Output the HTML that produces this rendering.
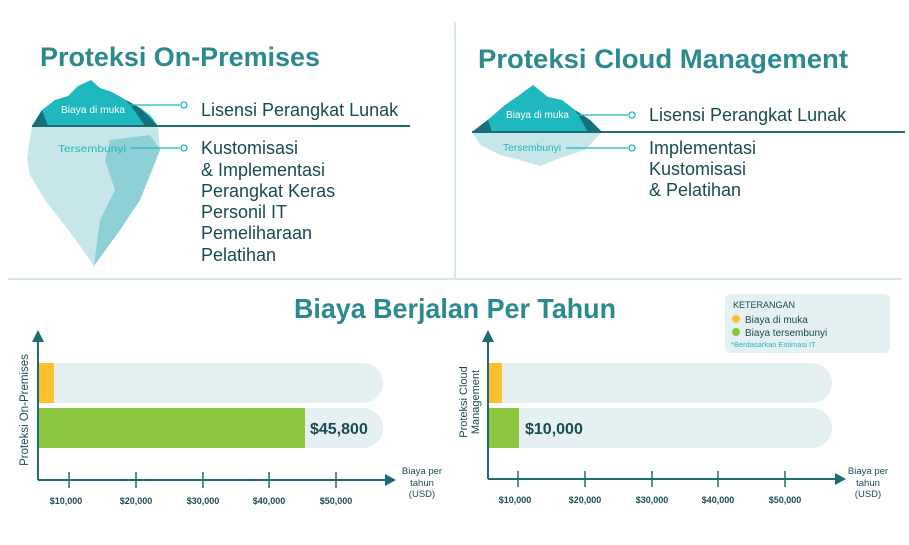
<!DOCTYPE html>
<html><head><meta charset="utf-8"><style>
html,body{margin:0;padding:0;background:#fff;}
svg{display:block;font-family:"Liberation Sans",sans-serif;}
</style></head><body>
<svg width="909" height="545" viewBox="0 0 909 545" xmlns="http://www.w3.org/2000/svg">
<line x1="455" y1="22" x2="455" y2="278" stroke="#c9dfe2" stroke-width="1.5"/>
<line x1="8" y1="279" x2="902" y2="279" stroke="#c9dfe2" stroke-width="1.5"/>

<text x="40" y="66" font-size="27" font-weight="bold" fill="#2a8a8e" textLength="280" lengthAdjust="spacingAndGlyphs">Proteksi On-Premises</text>
<text x="478" y="68" font-size="27" font-weight="bold" fill="#2a8a8e" textLength="370" lengthAdjust="spacingAndGlyphs">Proteksi Cloud Management</text>
<text x="294" y="318" font-size="28" font-weight="bold" fill="#2a8a8e" textLength="322" lengthAdjust="spacingAndGlyphs">Biaya Berjalan Per Tahun</text>

<!-- left iceberg -->
<polygon points="32,126 27,158 30,175 45,200 70,232 94,266 120,230 140,200 152,170 160,150 158,126" fill="#c6e6ea"/>
<polygon points="110,140 150,135 160,150 152,170 140,200 120,230 94,266 100,220 115,190 105,160" fill="#8fd0d6"/>
<polygon points="32,126 42,110 55,100 68,96 78,86 91,80 100,88 112,92 126,100 140,108 150,115 158,126" fill="#1fb8bf"/>
<polygon points="32,126 42,110 48,126" fill="#14707a"/>
<polygon points="126,100 140,108 158,126 145,126 134,110" fill="#14707a"/>
<line x1="32" y1="126" x2="410" y2="126" stroke="#1f6b73" stroke-width="2"/>
<text x="61" y="113" font-size="10.5" fill="#fff" textLength="64" lengthAdjust="spacingAndGlyphs">Biaya di muka</text>
<line x1="130" y1="105" x2="180" y2="105" stroke="#1fb8bf" stroke-width="1.3"/>
<circle cx="184" cy="105" r="3" fill="#fff" stroke="#1fb8bf" stroke-width="1.3"/>
<text x="58" y="152" font-size="10.5" fill="#1fb8bf" textLength="68" lengthAdjust="spacingAndGlyphs">Tersembunyi</text>
<line x1="130" y1="148" x2="180" y2="148" stroke="#1fb8bf" stroke-width="1.3"/>
<circle cx="184" cy="148" r="3" fill="#fff" stroke="#1fb8bf" stroke-width="1.3"/>
<g font-size="18" fill="#1a4a52">
<text x="201" y="116">Lisensi Perangkat Lunak</text>
<text x="201" y="154">Kustomisasi</text>
<text x="201" y="176">&amp; Implementasi</text>
<text x="201" y="197">Perangkat Keras</text>
<text x="201" y="218">Personil IT</text>
<text x="201" y="239">Pemeliharaan</text>
<text x="201" y="261">Pelatihan</text>
</g>

<!-- right iceberg -->
<polygon points="472,132 480,145 500,155 520,160 540,166 560,158 585,150 602,132" fill="#c6e6ea"/>
<polygon points="472,132 490,118 505,105 518,96 533,85 548,97 562,100 575,110 590,120 602,132" fill="#1fb8bf"/>
<polygon points="472,132 488,120 492,132" fill="#14707a"/>
<polygon points="575,110 590,120 602,132 588,132 580,118" fill="#14707a"/>
<line x1="472" y1="132" x2="905" y2="132" stroke="#1f6b73" stroke-width="2"/>
<text x="506" y="118" font-size="10" fill="#fff" textLength="63" lengthAdjust="spacingAndGlyphs">Biaya di muka</text>
<line x1="572" y1="115" x2="628" y2="115" stroke="#1fb8bf" stroke-width="1.3"/>
<circle cx="632" cy="115" r="3" fill="#fff" stroke="#1fb8bf" stroke-width="1.3"/>
<text x="503" y="151" font-size="10" fill="#1fb8bf" textLength="58" lengthAdjust="spacingAndGlyphs">Tersembunyi</text>
<line x1="566" y1="148" x2="628" y2="148" stroke="#1fb8bf" stroke-width="1.3"/>
<circle cx="632" cy="148" r="3" fill="#fff" stroke="#1fb8bf" stroke-width="1.3"/>
<g font-size="18" fill="#1a4a52">
<text x="649" y="121">Lisensi Perangkat Lunak</text>
<text x="649" y="154">Implementasi</text>
<text x="649" y="175">Kustomisasi</text>
<text x="649" y="196">&amp; Pelatihan</text>
</g>

<rect x="725" y="294" width="165" height="59" rx="6" fill="#e4f0f2"/>
<text x="733" y="308" font-size="9" fill="#1a4a52">KETERANGAN</text>
<circle cx="736" cy="319" r="4" fill="#fbc02d"/>
<text x="745" y="323" font-size="10" fill="#1a4a52">Biaya di muka</text>
<circle cx="736" cy="332" r="4" fill="#8dc63f"/>
<text x="745" y="336" font-size="10" fill="#1a4a52">Biaya tersembunyi</text>
<text x="731" y="347" font-size="7.5" fill="#1fb8bf">*Berdasarkan Estimasi IT</text>

<path d="M38,363 H363 A20,20 0 0 1 363,403 H38 Z" fill="#e4f0f2"/>
<rect x="38" y="363" width="16" height="40" fill="#fbc02d"/>
<path d="M38,408 H363 A20,20 0 0 1 363,448 H38 Z" fill="#e4f0f2"/>
<rect x="38" y="408" width="267" height="40" fill="#8dc63f"/>
<text x="310" y="434" font-size="16" font-weight="bold" fill="#1a4a52">$45,800</text>
<line x1="38" y1="480" x2="38" y2="340" stroke="#1f6b73" stroke-width="2"/>
<polygon points="32,342 38,330 44,342" fill="#1f6b73"/>
<line x1="38" y1="480" x2="386" y2="480" stroke="#1f6b73" stroke-width="2"/>
<polygon points="385,474 396,480 385,486" fill="#1f6b73"/>
<g stroke="#1f6b73" stroke-width="1.5">
<line x1="69" y1="472" x2="69" y2="488"/><line x1="136" y1="472" x2="136" y2="488"/><line x1="203" y1="472" x2="203" y2="488"/><line x1="269" y1="472" x2="269" y2="488"/><line x1="336" y1="472" x2="336" y2="488"/>
</g>
<g font-size="9" font-weight="bold" fill="#1a4a52" text-anchor="middle">
<text x="66" y="504">$10,000</text><text x="136" y="504">$20,000</text><text x="203" y="504">$30,000</text><text x="269" y="504">$40,000</text><text x="336" y="504">$50,000</text>
</g>
<g font-size="9.5" fill="#1a4a52" text-anchor="middle">
<text x="422" y="474">Biaya per</text><text x="422" y="486">tahun</text><text x="422" y="497">(USD)</text>
</g>
<text transform="translate(28,410) rotate(-90)" font-size="11.5" fill="#1a4a52" text-anchor="middle">Proteksi On-Premises</text>

<path d="M488,363 H812 A20,20 0 0 1 812,403 H488 Z" fill="#e4f0f2"/>
<rect x="488" y="363" width="14" height="40" fill="#fbc02d"/>
<path d="M488,408 H812 A20,20 0 0 1 812,448 H488 Z" fill="#e4f0f2"/>
<rect x="488" y="408" width="31" height="40" fill="#8dc63f"/>
<text x="525" y="434" font-size="16" font-weight="bold" fill="#1a4a52">$10,000</text>
<line x1="488" y1="479" x2="488" y2="340" stroke="#1f6b73" stroke-width="2"/>
<polygon points="482,342 488,330 494,342" fill="#1f6b73"/>
<line x1="488" y1="479" x2="836" y2="479" stroke="#1f6b73" stroke-width="2"/>
<polygon points="835,473 846,479 835,485" fill="#1f6b73"/>
<g stroke="#1f6b73" stroke-width="1.5">
<line x1="518" y1="471" x2="518" y2="487"/><line x1="585" y1="471" x2="585" y2="487"/><line x1="652" y1="471" x2="652" y2="487"/><line x1="718" y1="471" x2="718" y2="487"/><line x1="785" y1="471" x2="785" y2="487"/>
</g>
<g font-size="9" font-weight="bold" fill="#1a4a52" text-anchor="middle">
<text x="515" y="503">$10,000</text><text x="585" y="503">$20,000</text><text x="652" y="503">$30,000</text><text x="718" y="503">$40,000</text><text x="785" y="503">$50,000</text>
</g>
<g font-size="9.5" fill="#1a4a52" text-anchor="middle">
<text x="868" y="474">Biaya per</text><text x="868" y="486">tahun</text><text x="868" y="497">(USD)</text>
</g>
<text transform="translate(467,402) rotate(-90)" font-size="11" fill="#1a4a52" text-anchor="middle">Proteksi Cloud</text>
<text transform="translate(479,402) rotate(-90)" font-size="11" fill="#1a4a52" text-anchor="middle">Management</text>
</svg>
</body></html>
